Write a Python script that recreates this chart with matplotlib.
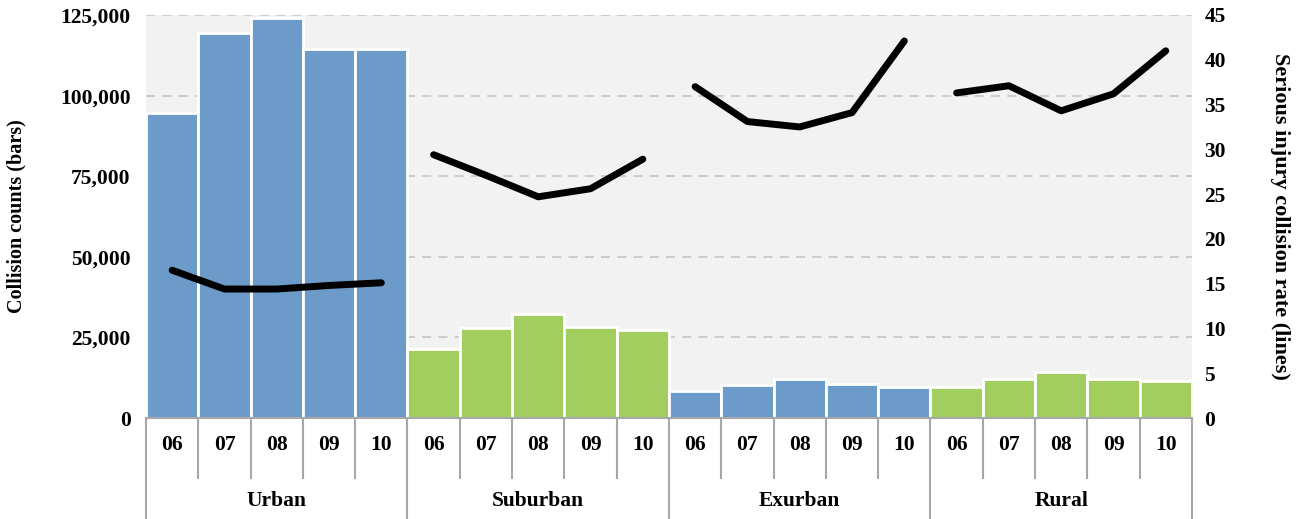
import matplotlib
matplotlib.use("Agg")
import matplotlib.pyplot as plt
from matplotlib.ticker import FuncFormatter

years = ["06", "07", "08", "09", "10"]
regions = ["Urban", "Suburban", "Exurban", "Rural"]

# collision counts (bars), per region, 2006-2010
counts_urban = [94600, 119400, 124100, 114500, 114500]
counts_suburban = [21400, 27900, 32300, 28200, 27300]
counts_exurban = [8400, 10200, 12100, 10500, 9600]
counts_rural = [9600, 12100, 14300, 12100, 11500]

# serious injury collision rate (lines)
rate_urban = [16.5, 14.4, 14.4, 14.8, 15.1]
rate_suburban = [29.4, 27.1, 24.7, 25.6, 28.9]
rate_exurban = [37.0, 33.1, 32.5, 34.1, 42.1]
rate_rural = [36.3, 37.1, 34.3, 36.2, 41.0]

all_counts = [counts_urban, counts_suburban, counts_exurban, counts_rural]
all_rates = [rate_urban, rate_suburban, rate_exurban, rate_rural]

blue = "#6c9bc9"
green = "#a2cd5f"
region_colors = [blue, green, blue, green]
grey = "#a8a8a8"

plt.rcParams["font.family"] = ["Liberation Serif", "DejaVu Serif"]
plt.rcParams["font.weight"] = "bold"
plt.rcParams["axes.labelweight"] = "bold"


def main():
    fig = plt.figure(figsize=(13, 5.19), dpi=100)
    ax = fig.add_axes([0.1123, 0.1946, 0.8046, 0.7765])
    ax.set_facecolor("#f2f2f2")
    ax2 = ax.twinx()

    n = len(years)
    for g, (vals, rates) in enumerate(zip(all_counts, all_rates)):
        xs = [g * n + i for i in range(n)]
        ax.bar(xs, vals, width=1.0, color=region_colors[g],
               edgecolor="white", linewidth=2, zorder=3)
        ax2.plot(xs, rates, color="black", linewidth=5,
                 solid_capstyle="round", solid_joinstyle="round", zorder=4)

    ax.set_xlim(-0.5, n * len(regions) - 0.5)
    ax.set_ylim(0, 125000)
    ax2.set_ylim(0, 45)
    ax.set_yticks(range(0, 125001, 25000))
    ax2.set_yticks(range(0, 46, 5))
    ax.yaxis.set_major_formatter(FuncFormatter(lambda v, p: f"{int(v):,}"))

    ax.set_axisbelow(True)
    ax.yaxis.grid(True, color="#c8c8c8", linestyle=(0, (5, 4)), linewidth=1.3)
    ax.xaxis.grid(False)

    for a in (ax, ax2):
        for s in ("top", "left", "right", "bottom"):
            a.spines[s].set_visible(False)
        a.tick_params(length=0, labelsize=15.5)
    ax.tick_params(axis="y", pad=11)
    ax2.tick_params(axis="y", pad=9)
    ax.set_xticks([])

    ax.set_ylabel("Collision counts (bars)", fontsize=14.5, labelpad=24)
    ax2.set_ylabel("Serious injury collision rate (lines)", fontsize=16,
                   rotation=270, labelpad=46)

    # two-level category table below the axis
    tr = ax.get_xaxis_transform()
    ax.plot([-0.5, n * len(regions) - 0.5], [0, 0], color=grey, lw=1.5,
            transform=tr, clip_on=False, zorder=5)
    for k in range(n * len(regions) + 1):
        x = k - 0.5
        bottom = -0.26 if k % n == 0 else -0.149
        ax.plot([x, x], [0, bottom], color=grey, lw=1.5,
                transform=tr, clip_on=False)
    for g, region in enumerate(regions):
        for i, yr in enumerate(years):
            ax.text(g * n + i, -0.067, yr, transform=tr, ha="center",
                    va="center", fontsize=15.5)
        ax.text(g * n + (n - 1) / 2, -0.205, region, transform=tr,
                ha="center", va="center", fontsize=15.5)

    fig.savefig("out.png", dpi=100, facecolor="white")


if __name__ == "__main__":
    main()
